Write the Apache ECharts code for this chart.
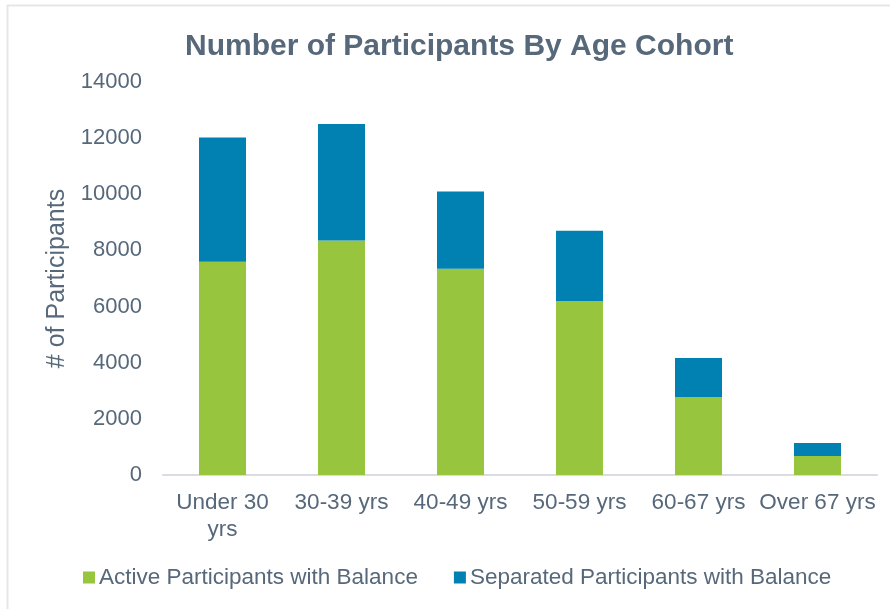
<!DOCTYPE html>
<html>
<head>
<meta charset="utf-8">
<script src="https://cdn.jsdelivr.net/npm/echarts@6/dist/echarts.min.js"></script>
<style>html,body{margin:0;padding:0;background:#fff;}#c{width:890px;height:609px;}</style>
</head>
<body>
<div id="c"></div>
<script>
const categories = ['Under 30\nyrs', '30-39 yrs', '40-49 yrs', '50-59 yrs', '60-67 yrs', 'Over 67 yrs'];
const activeValues = [7600, 8350, 7350, 6200, 2780, 680];
const separatedValues = [4420, 4150, 2750, 2500, 1390, 460];
const yTicks = [0, 2000, 4000, 6000, 8000, 10000, 12000, 14000];
const seriesNames = ['Active Participants with Balance', 'Separated Participants with Balance'];

const textColor = '#56687a';
const font = 'Liberation Sans, Arial, sans-serif';
const chart = echarts.init(document.getElementById('c'));
chart.setOption({
  animation: false,
  backgroundColor: '#fff',
  title: {
    text: 'Number of Participants By Age Cohort',
    left: 180, top: 27,
    textStyle: { color: textColor, fontFamily: font, fontSize: 30, fontWeight: 'bold' }
  },
  legend: {
    bottom: 15, left: 78,
    itemWidth: 12, itemHeight: 12, itemGap: 36,
    icon: 'rect',
    textStyle: { color: textColor, fontFamily: font, fontSize: 22.5, padding: [0, 0, 0, -1] },
    data: seriesNames
  },
  grid: { left: 163, right: 13, top: 82, bottom: 134 },
  xAxis: {
    type: 'category',
    data: categories,
    axisLine: { lineStyle: { color: '#d9dde3', width: 2 } },
    axisTick: { show: false },
    axisLabel: { color: textColor, fontFamily: font, fontSize: 22.5, margin: 14, lineHeight: 27, interval: 0 }
  },
  yAxis: {
    type: 'value',
    min: yTicks[0], max: yTicks[yTicks.length - 1], interval: 2000,
    name: '# of Participants',
    nameLocation: 'middle', nameGap: 92,
    nameTextStyle: { color: textColor, fontFamily: font, fontSize: 25 },
    axisLine: { show: false },
    axisTick: { show: false },
    splitLine: { show: false },
    axisLabel: { color: textColor, fontFamily: font, fontSize: 22, margin: 21, formatter: v => String(v) }
  },
  series: [
    { name: seriesNames[0], type: 'bar', stack: 'a', data: activeValues, barWidth: 47, itemStyle: { color: '#97c53e' } },
    { name: seriesNames[1], type: 'bar', stack: 'a', data: separatedValues, barWidth: 47, itemStyle: { color: '#0081b1' } }
  ],
  graphic: [
    { type: 'line', shape: { x1: 7.5, y1: 5, x2: 7.5, y2: 609 }, style: { stroke: '#e3e7ec', lineWidth: 2 } },
    { type: 'line', shape: { x1: 7, y1: 5.5, x2: 890, y2: 5.5 }, style: { stroke: '#e3e7ec', lineWidth: 2 } }
  ]
});
</script>
</body>
</html>
